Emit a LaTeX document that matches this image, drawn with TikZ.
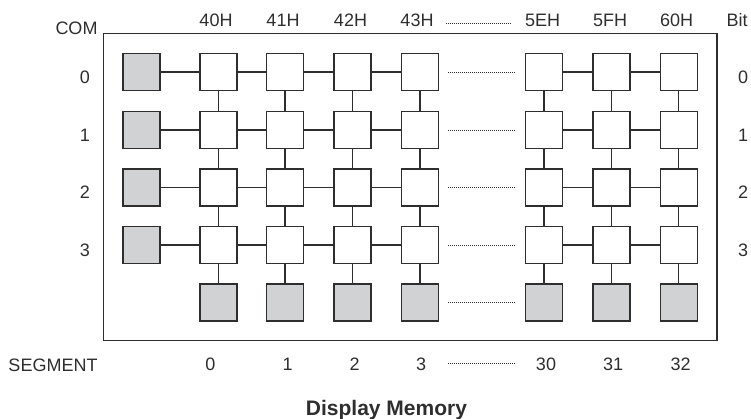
\documentclass[tikz,border=0pt]{standalone}
\usepackage{fontspec}
\setmainfont{Liberation Sans}
\definecolor{cellgray}{HTML}{D1D2D4}
\definecolor{ink}{HTML}{2E2E2E}
\begin{document}
\begin{tikzpicture}[x=1pt,y=-1pt,
  cell/.style={draw=ink,line width=1.4pt,minimum size=37pt,inner sep=0pt},
  wcell/.style={cell,fill=white},
  gcell/.style={cell,fill=cellgray},
  link/.style={draw=ink,line width=1.2pt},
  dots/.style={draw=ink,line width=0.9pt,dash pattern=on 0.9pt off 1.1pt},
  lab/.style={font=\fontsize{18}{20}\selectfont,text=ink,inner sep=0pt,anchor=base},
  title/.style={font=\bfseries\fontsize{21}{24}\selectfont,text=ink,inner sep=0pt,anchor=base}]
\useasboundingbox (0,0) rectangle (751,419);
% frame
\draw[draw=ink,line width=1.5pt] (103.3,33.5) rectangle (717,340.7);
% rows y: 72, 130, 187.5, 245 ; bottom 302.5
\foreach \r/\y in {0/72,1/130,2/187.5,3/245}{
  \node[gcell] (g\r) at (141.5,\y) {};
  \foreach \c/\x in {1/218.3,2/285,3/352.5,4/420,5/544,6/611.5,7/678.8}{
    \node[wcell] (w\c\r) at (\x,\y) {};
  }
  \node[lab] (L\r) at (85,\y+11.3) {\r};
  \node[lab] (R\r) at (743,\y+11.3) {\r};
}
\foreach \c/\x in {1/218.3,2/285,3/352.5,4/420,5/544,6/611.5,7/678.8}{
  \node[gcell] (b\c) at (\x,302.5) {};
}
% horizontal links
\foreach \r in {0,1,2,3}{
  \draw[link] (g\r.east) -- (w1\r.west);
  \draw[link] (w1\r.east) -- (w2\r.west);
  \draw[link] (w2\r.east) -- (w3\r.west);
  \draw[link] (w3\r.east) -- (w4\r.west);
  \draw[link] (w5\r.east) -- (w6\r.west);
  \draw[link] (w6\r.east) -- (w7\r.west);
  \draw[dots,shorten <=9pt,shorten >=10pt] (w4\r.east) -- (w5\r.west);
}
\draw[dots,shorten <=9pt,shorten >=10pt] (b4.east) -- (b5.west);
% vertical links
\foreach \c in {1,...,7}{
  \draw[link] (w\c0.south) -- (w\c1.north);
  \draw[link] (w\c1.south) -- (w\c2.north);
  \draw[link] (w\c2.south) -- (w\c3.north);
  \draw[link] (w\c3.south) -- (b\c.north);
}
% header labels
\node[lab] (com) at (76.5,35) {COM};
\node[lab] (h1) at (216,27) {40H};
\node[lab] (h2) at (283,27) {41H};
\node[lab] (h3) at (350.5,27) {42H};
\node[lab] (h4) at (417,27) {43H};
\node[lab] (h5) at (542.5,27) {5EH};
\node[lab] (h6) at (610,27) {5FH};
\node[lab] (h7) at (676.5,27) {60H};
\node[lab] (bit) at (737,27) {Bit};
\draw[dots] ([xshift=12pt,yshift=3.5pt]h4.base east) coordinate (hd1) -- ([xshift=-14pt,yshift=3.5pt]h5.base west) coordinate (hd2);
% segment labels
\node[lab] (seg) at (53,371.5) {SEGMENT};
\node[lab] (s1) at (210.5,370) {0};
\node[lab] (s2) at (287.5,370) {1};
\node[lab] (s3) at (354.5,370) {2};
\node[lab] (s4) at (421,370) {3};
\node[lab] (s5) at (546,370) {30};
\node[lab] (s6) at (613,370) {31};
\node[lab] (s7) at (680.5,370) {32};
\draw[dots] ([xshift=22pt,yshift=7pt]s4.base east) coordinate (sd1) -- ([xshift=-21pt,yshift=7pt]s5.base west) coordinate (sd2);
% title
\node[title] (ttl) at (386.5,415) {Display Memory};
\end{tikzpicture}
\end{document}
